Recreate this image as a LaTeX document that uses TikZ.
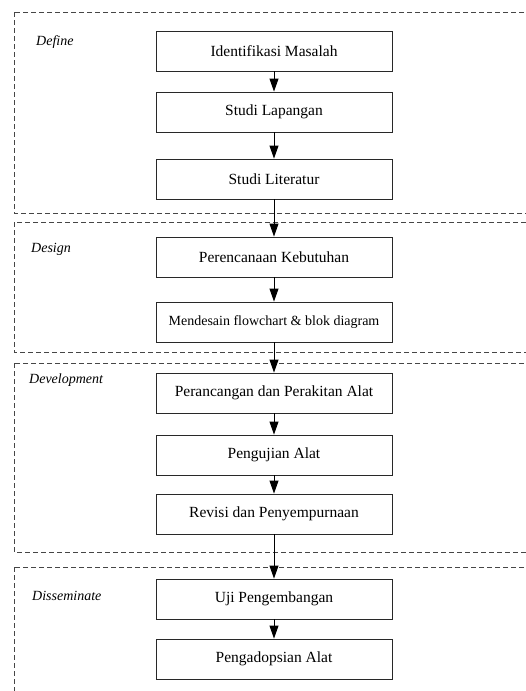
\documentclass[tikz,border=0pt]{standalone}
\usepackage{fontspec}
\setmainfont{Liberation Serif}
\usepackage{tikz}
\usetikzlibrary{positioning,arrows.meta}
\definecolor{frameclr}{RGB}{70,70,70}
\definecolor{boxclr}{RGB}{40,40,40}
\tikzset{
    stepbox/.style={rectangle,draw=boxclr,line width=0.9pt,minimum width=236pt,minimum height=40pt,inner sep=0pt,font=\fontsize{15.5}{17}\selectfont},
    smallbox/.style={stepbox,font=\fontsize{14}{16}\selectfont},
    phase/.style={anchor=west,inner sep=0pt,font=\fontsize{14}{16}\selectfont\itshape},
    frame/.style={draw=frameclr,line width=0.8pt,dash pattern=on 5pt off 3pt},
    edge/.style={-{Triangle[length=13pt,width=9pt]},line width=1pt},
}
\begin{document}
\begin{tikzpicture}[x=1pt,y=-1pt]
\useasboundingbox (0,0) rectangle (526,691);
\clip (0,0) rectangle (526,691);
\fill[white] (0,0) rectangle (526,691);

% phase frames
\draw[frame] (14,12) rectangle (540,213);
\draw[frame] (14,222) rectangle (540,352);
\draw[frame] (14,363) rectangle (540,552);
\draw[frame] (14,567) rectangle (540,700);

\node[phase] (Def) at (36,42)  {Define};
\node[phase] (Des) at (31,249) {Design};
\node[phase] (Dev) at (29,380) {Development};
\node[phase] (Dis) at (32,596) {Disseminate};

% steps
\node[stepbox] (S1)  at (274,51)  {Identifikasi Masalah};
\node[stepbox] (S2)  at (274,112) {Studi Lapangan};
\node[stepbox] (S3)  at (274,179) {Studi Literatur};
\node[stepbox] (S4)  at (274,257) {Perencanaan Kebutuhan};
\node[smallbox](S5)  at (274,322) {Mendesain flowchart \& blok diagram};
\node[stepbox] (S6)  at (274,393) {Perancangan dan Perakitan Alat};
\node[stepbox] (S7)  at (274,455) {Pengujian Alat};
\node[stepbox] (S8)  at (274,514) {Revisi dan Penyempurnaan};
\node[stepbox] (S9)  at (274,599) {Uji Pengembangan};
\node[stepbox] (S10) at (274,659) {Pengadopsian Alat};

% wiring
\draw[edge] (S1) -- (S2);
\draw[edge] (S2) -- (S3);
\draw[edge] (S3) -- (S4);
\draw[edge] (S4) -- (S5);
\draw[edge] (S5) -- (S6);
\draw[edge] (S6) -- (S7);
\draw[edge] (S7) -- (S8);
\draw[edge] (S8) -- (S9);
\draw[edge] (S9) -- (S10);
\end{tikzpicture}
\end{document}
